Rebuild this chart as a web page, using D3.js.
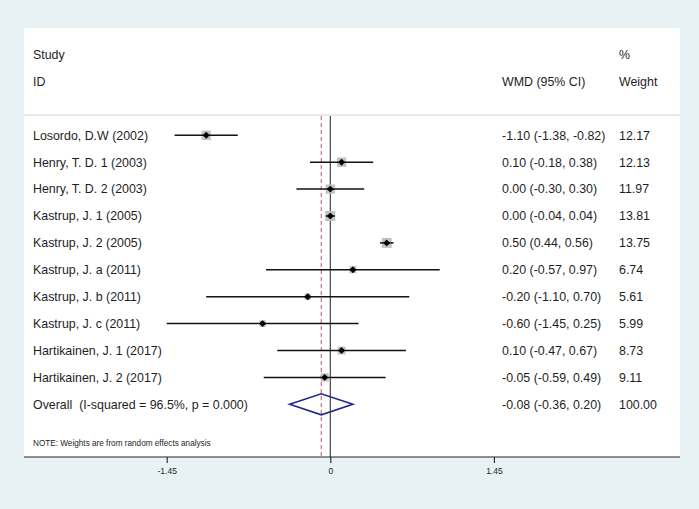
<!DOCTYPE html>
<html>
<head>
<meta charset="utf-8">
<script src="https://cdn.jsdelivr.net/npm/d3@7"></script>
<style>
  html, body { margin: 0; padding: 0; background: #e8f2f4; }
  svg { display: block; }
  text { font-family: "Liberation Sans", Arial, sans-serif; fill: #1e1e1e; white-space: pre; }
</style>
</head>
<body>
<svg id="chart"></svg>
<script>

/////////////////////////////////
// DATA
//////////////////////////////////

var studies = ["Losordo, D.W (2002)", "Henry, T. D. 1 (2003)", "Henry, T. D. 2 (2003)",
  "Kastrup, J. 1 (2005)", "Kastrup, J. 2 (2005)", "Kastrup, J. a (2011)",
  "Kastrup, J. b (2011)", "Kastrup, J. c (2011)", "Hartikainen, J. 1 (2017)",
  "Hartikainen, J. 2 (2017)"];
var estimates = [-1.10, 0.10, 0.00, 0.00, 0.50, 0.20, -0.20, -0.60, 0.10, -0.05];
var lowerCI   = [-1.38, -0.18, -0.30, -0.04, 0.44, -0.57, -1.10, -1.45, -0.47, -0.59];
var upperCI   = [-0.82, 0.38, 0.30, 0.04, 0.56, 0.97, 0.70, 0.25, 0.67, 0.49];
var weights   = [12.17, 12.13, 11.97, 13.81, 13.75, 6.74, 5.61, 5.99, 8.73, 9.11];

var overallLabel = "Overall  (I-squared = 96.5%, p = 0.000)";
var overall = {est: -0.08, lo: -0.36, hi: 0.20, weight: 100.00};

var tickValues = [-1.45, 0, 1.45];
var tickLabels = ["-1.45", "0", "1.45"];

/////////////////////////////////
// SIZES
//////////////////////////////////

var width = 699;
var height = 509;

var panel = {left: 24, right: 680, top: 28, bottom: 457};
var colStudy = 33;
var colWmd = 502;
var colWeight = 619;
var headerLine = 115;
var firstRow = 135.3;
var rowStep = 26.9;
var fontSize = "12.4px";

var svg = d3.select("#chart")
  .attr("width", width)
  .attr("height", height);

// white plot panel
svg.append("rect")
  .attr("x", panel.left)
  .attr("y", panel.top)
  .attr("width", panel.right - panel.left)
  .attr("height", panel.bottom - panel.top)
  .attr("fill", "#ffffff");

var x = d3.scaleLinear()
  .domain([-1.45, 1.45])
  .range([166.7, 493.9]);

var rows = studies.map(function(s, i) {
  return {study: s, est: estimates[i], lo: lowerCI[i], hi: upperCI[i], w: weights[i], i: i};
});

var y = function(i) { return firstRow + i * rowStep; };

// plain hyphen instead of the unicode minus d3 puts in
var f2 = function(v) { return d3.format(".2f")(v).replace("\u2212", "-"); };
function ciText(e, l, h) {
  return f2(e) + " (" + f2(l) + ", " + f2(h) + ")";
}

/////////////////////////////////
// HEADERS
//////////////////////////////////

var headers = [
  {t: "Study", x: colStudy, y: 55},
  {t: "ID", x: colStudy, y: 82},
  {t: "WMD (95% CI)", x: colWmd, y: 82},
  {t: "%", x: colWeight, y: 55},
  {t: "Weight", x: colWeight, y: 82}
];

svg.selectAll(".header")
  .data(headers)
  .enter()
  .append("text")
    .attr("class", "header")
    .attr("x", function(d) { return d.x; })
    .attr("y", function(d) { return d.y; })
    .attr("dy", "0.35em")
    .style("font-size", fontSize)
    .text(function(d) { return d.t; });

svg.append("line")
  .attr("x1", panel.left)
  .attr("x2", panel.right)
  .attr("y1", headerLine)
  .attr("y2", headerLine)
  .attr("stroke", "#d4d4d4")
  .attr("stroke-width", 1.2);

/////////////////////////////////
// REFERENCE LINES
//////////////////////////////////

svg.append("line")
  .attr("x1", x(0))
  .attr("x2", x(0))
  .attr("y1", headerLine + 1)
  .attr("y2", panel.bottom)
  .attr("stroke", "#333333")
  .attr("stroke-width", 1.1);

svg.append("line")
  .attr("x1", x(overall.est))
  .attr("x2", x(overall.est))
  .attr("y1", headerLine + 1)
  .attr("y2", panel.bottom)
  .attr("stroke", "#d2707e")
  .attr("stroke-width", 1.2)
  .attr("stroke-dasharray", "4 3");

/////////////////////////////////
// STUDY ROWS
//////////////////////////////////

var boxK = 10 / Math.sqrt(13.81);

var g = svg.selectAll(".row")
  .data(rows)
  .enter()
  .append("g")
    .attr("class", "row");

g.append("rect")
  .attr("x", function(d) { return x(d.est) - boxK * Math.sqrt(d.w) / 2; })
  .attr("y", function(d) { return y(d.i) - boxK * Math.sqrt(d.w) / 2; })
  .attr("width", function(d) { return boxK * Math.sqrt(d.w); })
  .attr("height", function(d) { return boxK * Math.sqrt(d.w); })
  .attr("fill", "#c2c2c2");

g.append("line")
  .attr("x1", function(d) { return x(d.lo); })
  .attr("x2", function(d) { return x(d.hi); })
  .attr("y1", function(d) { return y(d.i); })
  .attr("y2", function(d) { return y(d.i); })
  .attr("stroke", "#111111")
  .attr("stroke-width", 1.5);

g.append("path")
  .attr("d", d3.symbol(d3.symbolSquare, 24)())
  .attr("transform", function(d) {
    return "translate(" + x(d.est) + "," + y(d.i) + ") rotate(45)";
  })
  .attr("fill", "#000000");

g.append("text")
  .attr("x", colStudy)
  .attr("y", function(d) { return y(d.i); })
  .attr("dy", "0.35em")
  .style("font-size", fontSize)
  .text(function(d) { return d.study; });

g.append("text")
  .attr("x", colWmd)
  .attr("y", function(d) { return y(d.i); })
  .attr("dy", "0.35em")
  .style("font-size", fontSize)
  .text(function(d) { return ciText(d.est, d.lo, d.hi); });

g.append("text")
  .attr("x", colWeight)
  .attr("y", function(d) { return y(d.i); })
  .attr("dy", "0.35em")
  .style("font-size", fontSize)
  .text(function(d) { return f2(d.w); });

/////////////////////////////////
// OVERALL
//////////////////////////////////

var oy = y(studies.length);
var halfH = 10.5;

svg.append("path")
  .attr("d", d3.line()([
    [x(overall.lo), oy],
    [x(overall.est), oy - halfH],
    [x(overall.hi), oy],
    [x(overall.est), oy + halfH]
  ]) + "Z")
  .attr("fill", "none")
  .attr("stroke", "#1f2a86")
  .attr("stroke-width", 1.6);

svg.append("text")
  .attr("x", colStudy)
  .attr("y", oy)
  .attr("dy", "0.35em")
  .style("font-size", fontSize)
  .text(overallLabel);

svg.append("text")
  .attr("x", colWmd)
  .attr("y", oy)
  .attr("dy", "0.35em")
  .style("font-size", fontSize)
  .text(ciText(overall.est, overall.lo, overall.hi));

svg.append("text")
  .attr("x", colWeight)
  .attr("y", oy)
  .attr("dy", "0.35em")
  .style("font-size", fontSize)
  .text(f2(overall.weight));

// note
svg.append("text")
  .attr("x", colStudy)
  .attr("y", 443.5)
  .attr("dy", "0.35em")
  .style("font-size", "8.2px")
  .text("NOTE: Weights are from random effects analysis");

/////////////////////////////////
// AXIS
//////////////////////////////////

var axis = d3.axisBottom(x)
  .tickValues(tickValues)
  .tickFormat(function(d, i) { return tickLabels[i]; })
  .tickSize(6)
  .tickSizeOuter(0);

var axisG = svg.append("g")
  .attr("transform", "translate(0," + panel.bottom + ")")
  .call(axis);

axisG.select(".domain").remove();
axisG.selectAll(".tick line").attr("stroke", "#222").attr("stroke-width", 1.1);
axisG.selectAll(".tick text")
  .attr("y", 11)
  .style("font-size", "8.5px")
  .style("font-family", "'Liberation Sans', Arial, sans-serif")
  .style("fill", "#222");

svg.append("line")
  .attr("x1", panel.left)
  .attr("x2", panel.right)
  .attr("y1", panel.bottom)
  .attr("y2", panel.bottom)
  .attr("stroke", "#222")
  .attr("stroke-width", 1.2);

</script>
</body>
</html>
